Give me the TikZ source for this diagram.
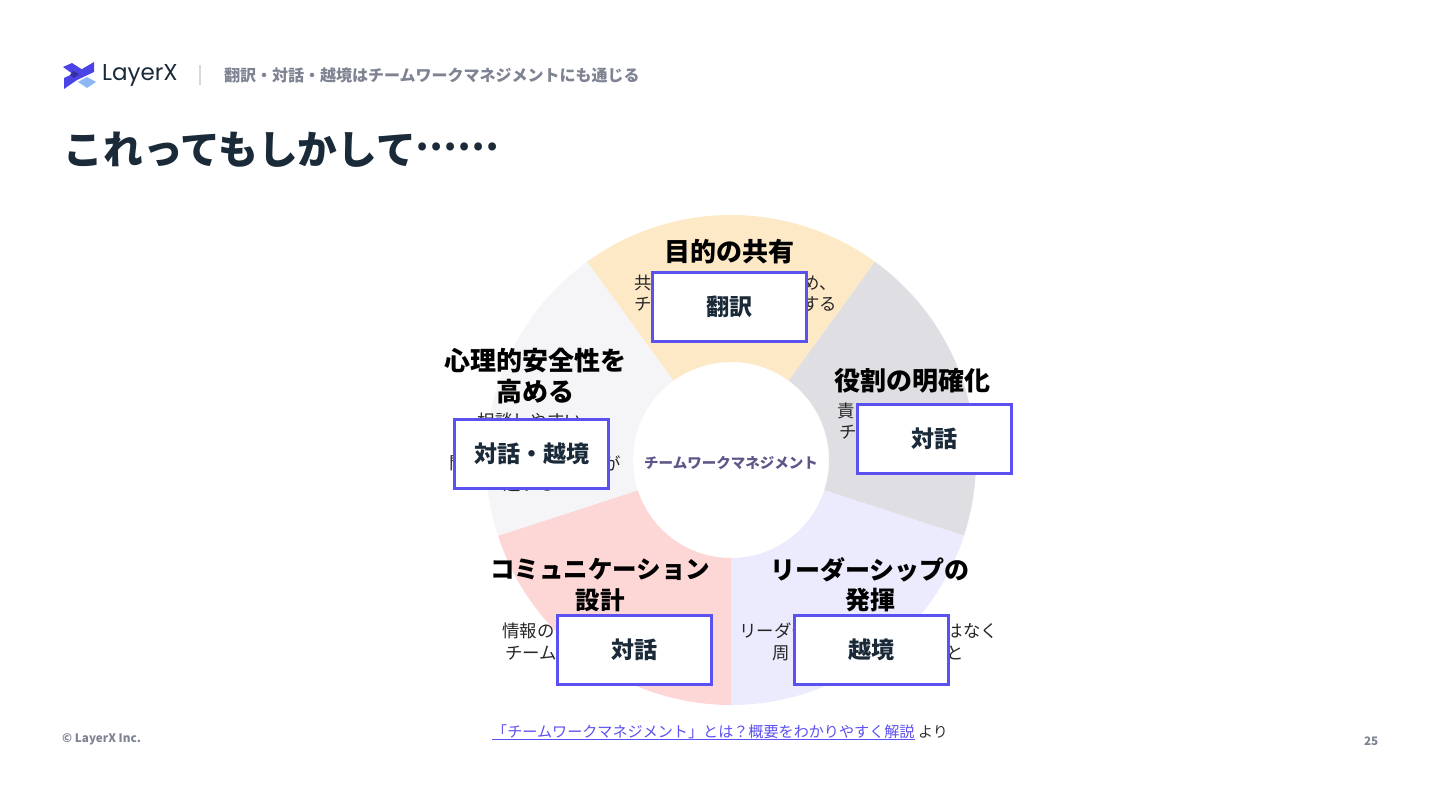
\documentclass[tikz,border=0pt]{standalone}
\usepackage{fontspec}
\setmainfont{Noto Sans CJK JP}
\newfontfamily\logofont{Poppins}
\definecolor{inkdark}{HTML}{1A2A38}
\definecolor{inkgray}{HTML}{7E8392}
\definecolor{linkblue}{HTML}{5B50F0}
\definecolor{logoblue}{HTML}{4B43E6}
\definecolor{logosky}{HTML}{8DB6F7}
\definecolor{centertext}{HTML}{5F5589}
\definecolor{wheelpurpose}{HTML}{FDE9C6}
\definecolor{wheelrole}{HTML}{DFDFE3}
\definecolor{wheellead}{HTML}{EBEBFD}
\definecolor{wheeltalk}{HTML}{FDD6D6}
\definecolor{wheelsafe}{HTML}{F5F5F8}
\tikzset{
  heading/.style={font=\fontsize{26}{30.5}\selectfont\bfseries,text=black,align=center,inner sep=0},
  kana heading/.style={heading,font=\fontsize{#1}{30.5}\selectfont\bfseries},
  body/.style={font=\fontsize{17.4}{21}\selectfont,text=black!85,inner sep=0},
  tagbox/.style={draw=linkblue,line width=3pt,fill=white,minimum width=154pt,minimum height=69pt,
    inner sep=0,font=\fontsize{23}{28}\selectfont\bfseries,text=inkdark},
  small gray/.style={font=\fontsize{11.7}{15}\selectfont\bfseries,text=inkgray,inner sep=0},
}

\begin{document}
\begin{tikzpicture}[x=1pt,y=-1pt]%
\useasboundingbox (0,0) rectangle (1440,810);

% logo
\fill[logoblue] (63,67) -- (72,63) -- (86,72) -- (77,77) -- cycle;
\fill[logoblue] (94,62) -- (94,72) -- (77,80) -- (64,89) -- (64,78) -- (77,72) -- cycle;
\fill[logoblue!70!black] (73,71) -- (79,74) -- (74,78) -- (70,75) -- cycle;
\fill[logosky] (78,82) -- (87,77) -- (96,82) -- (87,88) -- cycle;
\node[inner sep=0,anchor=west,text=inkdark] (logo) at (102,75.5) {\logofont\fontsize{23}{26}\selectfont LayerX};
\coordinate (ruletop) at (200,65);
\coordinate (rulebot) at (200,85);
\draw[black!15,line width=1.5pt] (ruletop) -- (rulebot);

\node[inner sep=0,anchor=west,text=inkgray,font=\fontsize{16}{20}\selectfont\bfseries] (subtitle) at (224,75)
  {翻訳・対話・越境はチームワークマネジメントにも通じる};
\node[inner sep=0,anchor=west,text=inkdark,font=\fontsize{39.7}{46}\selectfont\bfseries] (title) at (63.5,150)
  {これってもしかして\raisebox{14pt}{\fontsize{37}{46}\selectfont ……}};

% wheel
\begin{scope}[shift={(731,460)},y=1pt]
  \foreach \a/\col in {54/wheelpurpose,-18/wheelrole,-90/wheellead,-162/wheeltalk,-234/wheelsafe} {
    \fill[\col] (\a:98) arc[start angle=\a,end angle=\a+72,radius=98]
      -- (\a+72:245) arc[start angle=\a+72,end angle=\a,radius=245] -- cycle;
  }
\end{scope}

\node[inner sep=0,text=centertext,font=\fontsize{14.5}{18}\selectfont\bfseries] (center) at (731,463)
  {チームワークマネジメント};

% headings
\node[heading] (purpose) at (729,252) {目的の共有};
\node[heading] (role) at (912,381) {役割の明確化};
\node[heading] (safe) at (535,376) {心理的安全性を\\高める};
\node[kana heading=24.5] (talk) at (600,585) {コミュニケーション\\設計};
\node[kana heading=25] (lead) at (870,585) {リーダーシップの\\発揮};

% text under the boxes
\node[body,anchor=west] (purposeA) at (634,283) {共};
\node[body,anchor=east] (purposeD) at (837,283) {め、};
\node[body,anchor=west] (purposeB) at (634,304) {チ};
\node[body,anchor=east] (purposeC) at (837,304) {する};
\node[body,anchor=west] (roleA) at (837,411) {責};
\node[body,anchor=west] (roleB) at (839,432) {チ};
\node[body] (safeA) at (530,421) {相談しやすい};
\node[body,anchor=west] (safeB) at (449,463) {問};
\node[body,anchor=east] (safeC) at (621,463) {が};
\node[body,anchor=west] (safeD) at (503,484) {進する};
\node[body,anchor=west] (talkA) at (502,631) {情報の};
\node[body,anchor=west] (talkB) at (505,653) {チーム};
\node[body,anchor=west] (leadA) at (739,631) {リーダー};
\node[body,anchor=east] (leadB) at (998,631) {はなく};
\node[body,anchor=west] (leadC) at (772,653) {周};
\node[body,anchor=east] (leadD) at (964,653) {と};

% boxes
\node[tagbox] (boxtop) at (729.5,307) {翻訳};
\node[tagbox] (boxright) at (934.5,439) {対話};
\node[tagbox] (boxleft) at (531.5,454) {対話・越境};
\node[tagbox] (boxtalk) at (634.5,650) {対話};
\node[tagbox] (boxlead) at (871.5,650) {越境};

% source
\node[inner sep=0,anchor=west,text=linkblue,font=\fontsize{15.1}{19}\selectfont] (source) at (492,732)
  {「チームワークマネジメント」とは？概要をわかりやすく解説};
\node[inner sep=0,anchor=west,text=black!80,font=\fontsize{15}{19}\selectfont] (yori) at (918,732) {より};
\coordinate (linestart) at (492,739.5);
\coordinate (lineend) at (915,739.5);
\draw[linkblue,line width=1pt] (linestart) -- (lineend);

\node[small gray,anchor=west] (copyright) at (62,739) {© LayerX Inc.};
\node[small gray,anchor=east] (pageno) at (1378.5,741) {25};

\end{tikzpicture}
\end{document}
